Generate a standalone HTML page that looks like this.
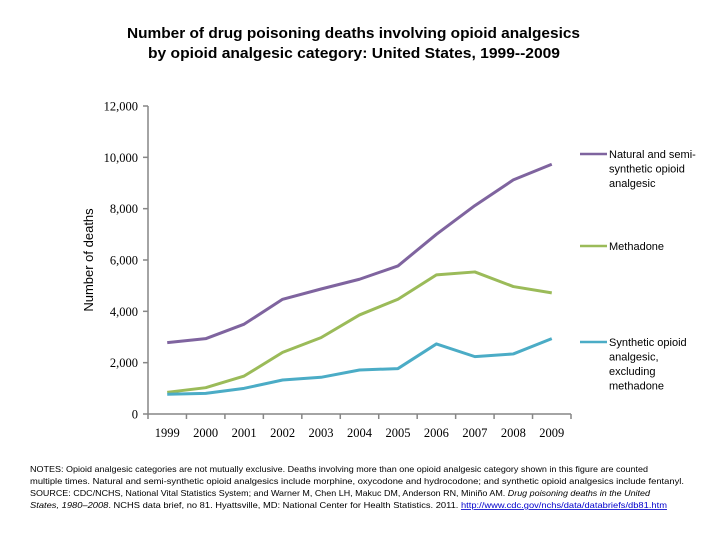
<!DOCTYPE html>
<html><head><meta charset="utf-8"><style>
body{margin:0;background:#fff;}
svg{display:block;font-family:"Liberation Sans",sans-serif;}
</style></head><body>
<svg width="720" height="540">
<text x="127" y="38" font-size="14.5" font-weight="bold" textLength="453" lengthAdjust="spacingAndGlyphs">Number of drug poisoning deaths involving opioid analgesics</text>
<text x="148" y="58" font-size="14.5" font-weight="bold" textLength="412" lengthAdjust="spacingAndGlyphs">by opioid analgesic category: United States, 1999--2009</text>
<text transform="translate(93,260) rotate(-90)" text-anchor="middle" font-size="13">Number of deaths</text>
<g id="axes"></g>
<g id="series"></g>
<g id="legend"></g>
<g font-size="8.3" fill="#000">
<text x="30" y="472" textLength="618" lengthAdjust="spacingAndGlyphs">NOTES: Opioid analgesic categories are not mutually exclusive. Deaths involving more than one opioid analgesic category shown in this figure are counted</text>
<text x="30" y="484" textLength="654" lengthAdjust="spacingAndGlyphs">multiple times. Natural and semi-synthetic opioid analgesics include morphine, oxycodone and hydrocodone; and synthetic opioid analgesics include fentanyl.</text>
<text x="30" y="496" textLength="620" lengthAdjust="spacingAndGlyphs">SOURCE: CDC/NCHS, National Vital Statistics System; and Warner M, Chen LH, Makuc DM, Anderson RN, Miniño AM. <tspan font-style="italic">Drug poisoning deaths in the United</tspan></text>
<text x="30" y="508" textLength="637" lengthAdjust="spacingAndGlyphs"><tspan font-style="italic">States, 1980–2008</tspan>. NCHS data brief, no 81. Hyattsville, MD: National Center for Health Statistics. 2011. <tspan fill="#0000cc" text-decoration="underline">http://www.cdc.gov/nchs/data/databriefs/db81.htm</tspan></text>
</g>
</svg>
<script>
const years=["1999","2000","2001","2002","2003","2004","2005","2006","2007","2008","2009"];
const naturalVals=[2780,2935,3500,4470,4870,5250,5770,7000,8120,9120,9730];
const methadoneVals=[845,1025,1480,2400,2975,3860,4470,5420,5535,4965,4720];
const syntheticVals=[770,805,1000,1325,1430,1715,1770,2730,2235,2340,2935];
const yTicks=[0,2000,4000,6000,8000,10000,12000];
const yTickLabels=["0","2,000","4,000","6,000","8,000","10,000","12,000"];
const seriesNames=["natural-semisynthetic","methadone","synthetic"];
const NS="http://www.w3.org/2000/svg";
const x0=148,x1=571,yBase=414,yTop=106;
const band=(x1-x0)/years.length;
function xs(i){return x0+band*(i+0.5);}
function ys(v){return yBase-(v/12000)*(yBase-yTop);}
function mk(t,a,p){const e=document.createElementNS(NS,t);for(const k in a)e.setAttribute(k,a[k]);p.appendChild(e);return e;}
const ax=document.getElementById('axes');
const ya=mk('line',{x1:x0,y1:yTop,x2:x0,y2:yBase,stroke:'#868686','stroke-width':1.5},ax);


const xa=mk('line',{x1:x0,y1:yBase,x2:x1,y2:yBase,stroke:'#868686','stroke-width':1.5},ax);


yTicks.forEach((v,i)=>{
  mk('line',{x1:x0-5,y1:ys(v),x2:x0,y2:ys(v),stroke:'#868686','stroke-width':1.5},ax);
  const t=mk('text',{x:x0-10,y:ys(v)+4.5,'text-anchor':'end','font-size':12.5,'font-family':'Liberation Serif, serif'},ax);
  t.textContent=yTickLabels[i];
  
  
});
for(let i=0;i<=years.length;i++){mk('line',{x1:x0+band*i,y1:yBase,x2:x0+band*i,y2:yBase+5,stroke:'#868686','stroke-width':1.5},ax);}
years.forEach((y,i)=>{
  const t=mk('text',{x:xs(i),y:yBase+23,'text-anchor':'middle','font-size':12.5,'font-family':'Liberation Serif, serif'},ax);
  t.textContent=y;
  
  
});
const sg=document.getElementById('series');
const data=[naturalVals,methadoneVals,syntheticVals];
const colors=['#7f649f','#9bbb59','#4bacc6'];
data.forEach((vals,s)=>{
  const p=mk('polyline',{points:vals.map((v,i)=>xs(i)+','+ys(v)).join(' '),fill:'none',stroke:colors[s],'stroke-width':3,'stroke-linejoin':'round'},sg);
  
  
});
const lg=document.getElementById('legend');
const legendText=[["Natural and semi-","synthetic opioid","analgesic"],["Methadone"],["Synthetic opioid","analgesic,","excluding","methadone"]];
const legendY=[154,246,342];
legendText.forEach((lines,s)=>{
  const g=mk('g',{},lg);
  
  
  mk('line',{x1:580,y1:legendY[s],x2:607,y2:legendY[s],stroke:colors[s],'stroke-width':2.5},g);
  lines.forEach((l,j)=>{const t=mk('text',{x:609,y:legendY[s]+4+j*14.5,'font-size':11},g);t.textContent=l;});
});
</script>
</body></html>
